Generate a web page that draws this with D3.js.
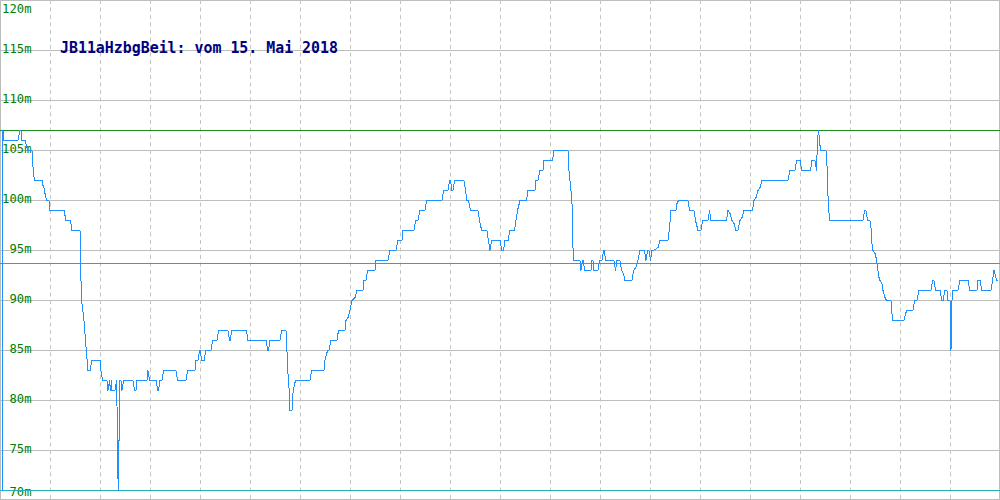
<!DOCTYPE html>
<html><head><meta charset="utf-8">
<script src="https://cdn.jsdelivr.net/npm/d3@7"></script>
<style>html,body{margin:0;padding:0;background:#fff;}svg{display:block;}</style>
</head><body>
<svg id="c" width="1000" height="500"></svg>
<script>
// ---- data ----
const title = "JB11aHzbgBeil: vom 15. Mai 2018";
const yTicks = [70, 75, 80, 85, 90, 95, 100, 105, 110, 115, 120];
const yTickLabels = ["70m","75m","80m","85m","90m","95m","100m","105m","110m","115m","120m"];
const xTicks = [50,100,150,200,250,300,350,400,450,500,550,600,650,700,750,800,850,900,950];
const maxLevel = 107, avgLevel = 93.7, minLevel = 71;
// sample position (index) and water level (m)
const times = [2,2,3,3.5,18,20,21,22,25,26,27.5,32,32.5,33.5,34.5,42.5,43,44,45,46.5,49,50,64,65,66,70.5,71,72,80,80.5,81,82,84,85.5,86.5,88,90.5,91.5,100.5,101,102.5,107,108,109.5,110.5,111.5,112,115,116.5,117,117.7,118.2,118.8,119.4,120,121,122,123.5,133,134.5,136,137,147,148,149.5,156.5,157.5,158.5,160,162,163.5,176,177.5,186,187.5,195,196,198,199.5,200.5,201.5,204.5,205.5,211,212.5,217,218.5,228,229.5,230.5,231.5,246.5,248,266.5,267.5,268.5,270,280,281.5,286,286.8,287.5,289,290,292,293,294.5,296,310,311.5,324,325,326.5,328,329,331,337,338,339,345,346,348,350,352,355,357,363,364,366,367.5,375,376,388,390,396,398,402,403,414,415.5,418,420,425,426.5,442,443.5,448,449.5,450.5,452,453,454.5,464,465.5,467,468.5,470.5,478,479.5,481,482,487,488,489,490,491.5,500.5,501.5,503.5,505,508,510,514.5,516,517.5,520,526.5,528,535,536,538,540,543,544,552.5,554,568,569,571,572.5,573,574,580,581,582.5,583.5,584.5,591,592,593,594,598,599.5,602,603.5,604.5,605.5,614,615.5,617,620,621.5,623.5,625,632,633.5,636,638,640,644.5,646,647.5,649,650.5,652,653.5,658,660,668,669.5,671,676,677,678.5,688,689.5,694,695.5,698,701,702.5,708,709.5,711,726.5,728,730,732,734,736,738,740,742,744,752.5,754,756,758,760,762,788,790,795,796.5,800,802,810.5,812,815,816.5,817.5,818.5,819.3,820,821,826,827,828,829,830,863,864.5,866,867.5,870,871,872,873,875,876,878,879,880,882,883,885,886.5,891,892,893,904,905.5,907,913,914.5,917,919,931,932.5,934,935.5,940.5,941.5,943.5,944.5,947,948,950,951,952,953,958,960,968,970,977,978,980,982,991,992.5,994,995,996.5,998];
const levels = [71,107,107,106,106,107,107,106,106,105.7,105,105,104,102.7,102,102,101.5,101.3,100.7,100,100,99,99,98.5,98,98,97.7,97,97,95.3,92,89.7,88,86,84.7,83,83,84,84,83,82,82,81,82,81,82,81,81,82,79.5,74,71,74,79.5,82,82,81,82,82,81,81,82,82,83,82,82,81,81,82,82,83,83,82,82,83,83,84,84,85,85,84,84,85,85,86,86,87,87,86,86,87,87,86,86,85,85,86,86,87,87,85.5,83.3,81.3,79,79,80.7,81.7,82,82,83,83,84,84.7,85,85,86,86,86.7,87,87,88,88.3,89,90,90.3,91,91,92,92,93,93,94,94,95,95,96,96,97,97,98,98,99,99,100,100,101,101,102,102,101,101,102,102,101,100,100,99,99,98,97.3,97,97,96.3,95.7,95,96,96,95,95,96,96,97,97,98,99,100,100,101,101,102,102,103,103,104,104,105,105,103,101,99,95.3,94,94,93,94,94,93,93,94,94,93,93,94,94,95,95,94,94,93,94,94,93,92.7,92,92,93,93.3,94,95,95,94,95,95,94,95,95,95.3,96,96,97.3,99,99,99.7,100,100,99,99,98,97,97,98,98,99,98,98,99,98.7,98,97.7,97,97,98,98.3,99,99,100,100.3,101,101.3,102,102,103,103,104,104,103,103,104,104,103,106,107,106.3,105.5,105,105,103.5,100.5,98.8,98,98,99,99,98,98,97.3,95.7,95,94.7,94.3,93,92.3,92,91.7,91,90.3,90,90,88.7,88,88,88.7,89,89,90,90,91,91,92,92,91,91,90,90,91,91,90,90,85,90,91,91,92,92,91,91,92,92,91,91,92,93,92.7,92,92];

// ---- chart ----
const W = 1000, H = 500;
const svg = d3.select("#c");
const x = d3.scaleLinear().domain([0, 1000]).range([0, W]);
const y = d3.scaleLinear().domain([70, 120]).range([H, 0]);

// horizontal grid
svg.append("g").selectAll("line").data(yTicks).join("line")
  .attr("x1", 0).attr("x2", W)
  .attr("y1", d => Math.min(H - 0.5, Math.max(0.5, Math.round(y(d)) + 0.5)))
  .attr("y2", d => Math.min(H - 0.5, Math.max(0.5, Math.round(y(d)) + 0.5)))
  .attr("stroke", "#bdbdbd").attr("stroke-width", 1);

// vertical dashed grid
svg.append("g").selectAll("line").data(xTicks).join("line")
  .attr("x1", d => Math.round(x(d)) + 0.5).attr("x2", d => Math.round(x(d)) + 0.5)
  .attr("y1", 0).attr("y2", H)
  .attr("stroke", "#c4c4c4").attr("stroke-width", 1).attr("stroke-dasharray", "4,3.5");

// borders
svg.append("line").attr("x1", 0.5).attr("x2", 0.5).attr("y1", 0).attr("y2", H).attr("stroke", "#bdbdbd");
svg.append("line").attr("x1", W - 0.5).attr("x2", W - 0.5).attr("y1", 0).attr("y2", H).attr("stroke", "#bdbdbd");

// y labels
svg.append("g").selectAll("text").data(yTicks).join("text")
  .attr("x", 31.5)
  .attr("y", d => Math.min(H - 4, Math.max(13, y(d) + 3)))
  .attr("text-anchor", "end")
  .attr("font-family", "DejaVu Sans Mono, monospace")
  .attr("font-size", 13)
  .attr("fill", "#008000")
  .attr("textLength", (d, i) => yTickLabels[i].length * 7.35)
  .attr("lengthAdjust", "spacingAndGlyphs")
  .text((d, i) => yTickLabels[i]);

// reference lines
const refs = [
  {v: maxLevel, c: "#1a8c1a"},
  {v: avgLevel, c: "#46a86a"},
  {v: minLevel, c: "#20b4b4"}
];
svg.append("g").selectAll("line").data(refs).join("line")
  .attr("x1", 0).attr("x2", W)
  .attr("y1", d => Math.round(y(d.v)) + 0.5).attr("y2", d => Math.round(y(d.v)) + 0.5)
  .attr("stroke", d => d.c).attr("stroke-width", 1);

// series line
const pts = times.map((t, i) => [t, levels[i]]);
const line = d3.line().x(d => x(d[0])).y(d => y(d[1]) + 0.5).curve(d3.curveLinear);
svg.append("path").datum(pts)
  .attr("d", line)
  .attr("fill", "none")
  .attr("stroke", "#1e90ff")
  .attr("stroke-width", 1)
  .attr("shape-rendering", "crispEdges");

// title
svg.append("text")
  .attr("x", 60).attr("y", 53)
  .attr("font-family", "DejaVu Sans Mono, monospace")
  .attr("font-size", 15)
  .attr("font-weight", "bold")
  .attr("fill", "#000080")
  .attr("textLength", 278)
  .attr("lengthAdjust", "spacingAndGlyphs")
  .text(title);
</script>
</body></html>
